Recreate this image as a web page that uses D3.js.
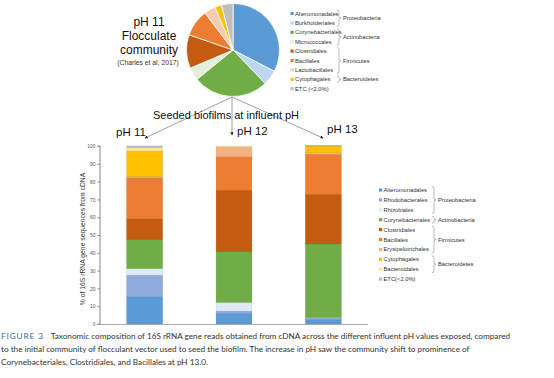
<!DOCTYPE html>
<html>
<head>
<meta charset="utf-8">
<script src="https://cdn.jsdelivr.net/npm/d3@7"></script>
<style>
  body { margin: 0; background: #fff; }
  svg { display: block; font-family: Arial, "Liberation Sans", sans-serif; }
</style>
</head>
<body>
<div id="chart"></div>
<script>
const width = 554,
    height = 378;

// pie (initial flocculant community)
const pieCats = ["Alteromonadales", "Burkholderiales", "Corynebacteriales", "Micrococcales",
    "Clostridiales", "Bacillales", "Lactobacillales", "Cytophagales", "ETC (<2.0%)"];
const pieValues = [32.6, 5.3, 26.3, 4.5, 11.7, 9.4, 4.0, 2.3, 4.0];
const pieColors = ["#5B9BD5", "#BDD7EE", "#70AD47", "#E2EFDA", "#C55A11", "#ED7D31", "#F8CBAD", "#FFC000", "#BFBFBF"];
const piePhyla = [["Proteobacteria", 0, 1], ["Actinobacteria", 2, 3], ["Firmicutes", 4, 6], ["Bacteroidetes", 7, 7]];

// stacked bars (seeded biofilms)
const barGroups = ["pH 11", "pH 12", "pH 13"];
const barCats = ["Alteromonadales", "Rhodobacterales", "Rhizobiales", "Corynebacteriales", "Clostridiales",
    "Bacillales", "Erysipelotrichales", "Cytophagales", "Bacteroidales", "ETC(<2.0%)"];
const alteromonadales = [15.3, 6.0, 2.6];
const rhodobacterales = [12.2, 1.3, 0.8];
const rhizobiales = [3.7, 4.9, 0.3];
const corynebacteriales = [16.2, 28.4, 41.3];
const clostridiales = [11.8, 34.6, 27.9];
const bacillales = [23.0, 18.8, 22.5];
const erysipelotrichales = [0.8, 5.4, 0.8];
const cytophagales = [14.2, 0, 3.8];
const bacteroidales = [2.0, 0.6, 0];
const etc = [0.8, 0, 0.3];
const barColors = ["#5B9BD5", "#8FAADC", "#DEEBF7", "#70AD47", "#C55A11", "#ED7D31", "#F4B183", "#FFC000", "#FFE699", "#BFBFBF"];
const barPhyla = [["Proteobacteria", 0, 2], ["Actinobacteria", 3, 3], ["Firmicutes", 4, 6], ["Bacteroidetes", 7, 8]];
const yTicks = [0, 10, 20, 30, 40, 50, 60, 70, 80, 90, 100];

const captionLines = [
    "Taxonomic composition of 16S rRNA gene reads obtained from cDNA across the different influent pH values exposed, compared",
    "to the initial community of flocculant vector used to seed the biofilm. The increase in pH saw the community shift to prominence of",
    "Corynebacteriales, Clostridiales, and Bacillales at pH 13.0."
];

const svg = d3.select("#chart").append("svg")
    .attr("width", width)
    .attr("height", height);

// ---------- top: pie ----------
const pieCx = 233, pieCy = 50, pieR = 46.5;

const title = svg.append("g").attr("text-anchor", "middle").attr("fill", "#111");
[["pH 11", 26], ["Flocculate", 40], ["community", 54]].forEach(([t, y]) => {
    title.append("text").attr("x", 149).attr("y", y).style("font-size", "12px").text(t);
});
title.append("text").attr("x", 148).attr("y", 64.5).style("font-size", "6.8px").attr("fill", "#333").text("(Charles et al, 2017)");

const pie = d3.pie().sort(null).value(d => d);
const arc = d3.arc().innerRadius(0).outerRadius(pieR);

svg.append("g")
    .attr("transform", `translate(${pieCx},${pieCy})`)
    .selectAll("path")
    .data(pie(pieValues))
    .enter().append("path")
    .attr("d", arc)
    .attr("fill", (d, i) => pieColors[i])
    .attr("stroke", "#fff")
    .attr("stroke-width", 0.8);

function drawLegend(g, cats, colors, phyla, y0, step, x0, bx) {
    cats.forEach((c, i) => {
        const y = y0 + i * step;
        g.append("rect").attr("x", x0).attr("y", y - 1.6).attr("width", 3.2).attr("height", 3.2).attr("fill", colors[i]);
        g.append("text").attr("x", x0 + 4.5).attr("y", y + 2).style("font-size", "5.8px").attr("fill", "#333").text(c);
    });
    phyla.forEach(([name, a, b]) => {
        const ya = y0 + a * step - 3.5, yb = y0 + b * step + 3.5, ym = (ya + yb) / 2;
        g.append("path")
            .attr("d", `M${bx},${ya} q2,0 2,2 V${ym - 1} l2,1 l-2,1 V${yb - 2} q0,2 -2,2`)
            .attr("fill", "none").attr("stroke", "#777").attr("stroke-width", 0.5);
        g.append("text").attr("x", bx + 6).attr("y", ym + 2).style("font-size", "5.8px").attr("fill", "#333").text(name);
    });
}

drawLegend(svg.append("g"), pieCats, pieColors, piePhyla, 13.5, 9.4, 290.5, 337);

// ---------- arrows ----------
const defs = svg.append("defs");
defs.append("marker")
    .attr("id", "ah").attr("viewBox", "0 0 6 6").attr("refX", 5).attr("refY", 3)
    .attr("markerWidth", 4).attr("markerHeight", 4).attr("orient", "auto")
    .append("path").attr("d", "M0,0 L6,3 L0,6 z").attr("fill", "#222");

const arrowTargets = [[145, 138], [232, 135], [323, 138]];
svg.append("g").selectAll("line")
    .data(arrowTargets).enter().append("line")
    .attr("x1", 232).attr("y1", 97)
    .attr("x2", d => d[0]).attr("y2", d => d[1])
    .attr("stroke", "#888").attr("stroke-width", 0.8)
    .attr("marker-end", "url(#ah)");

svg.append("text").attr("x", 226).attr("y", 119).attr("text-anchor", "middle")
    .style("font-size", "11px").attr("fill", "#111").text("Seeded biofilms at influent pH");

[["pH 11", 131, 136, "middle"], ["pH 12", 237, 135, "start"], ["pH 13", 327, 133, "start"]].forEach(([t, x, y, a]) => {
    svg.append("text").attr("x", x).attr("y", y).attr("text-anchor", a)
        .style("font-size", "11.5px").attr("fill", "#111").text(t);
});

// ---------- bars ----------
const series = [alteromonadales, rhodobacterales, rhizobiales, corynebacteriales, clostridiales,
    bacillales, erysipelotrichales, cytophagales, bacteroidales, etc];
const table = barGroups.map((g, j) => {
    const row = { group: g };
    barCats.forEach((c, i) => row[c] = series[i][j]);
    return row;
});
const stacked = d3.stack().keys(barCats)(table);

const x = d3.scaleBand().domain(barGroups).range([100, 368]).paddingInner(0.6).paddingOuter(0.3);
const y = d3.scaleLinear().domain([0, 100]).range([324, 146]);

const barG = svg.append("g");
barG.selectAll("g")
    .data(stacked).enter().append("g")
    .attr("fill", (d, i) => barColors[i])
    .attr("stroke", (d, i) => d3.color(barColors[i]).darker(0.4))
    .attr("stroke-width", 0.4)
    .selectAll("rect")
    .data(d => d.filter(s => s[1] - s[0] > 0))
    .enter().append("rect")
    .attr("x", d => x(d.data.group))
    .attr("width", x.bandwidth())
    .attr("y", d => y(d[1]))
    .attr("height", d => y(d[0]) - y(d[1]));

const yAxis = svg.append("g")
    .attr("transform", "translate(100,0)")
    .call(d3.axisLeft(y).tickValues(yTicks).tickSize(2.5).tickPadding(2));
yAxis.select(".domain").attr("stroke", "#888").attr("d", "M-2.5,146H0V324H-2.5");
yAxis.selectAll(".tick line").attr("stroke", "#888");
yAxis.selectAll(".tick text").style("font-size", "5px").attr("fill", "#555").style("font-family", "Arial, sans-serif");

svg.append("line")
    .attr("x1", 100).attr("x2", 368).attr("y1", 324.5).attr("y2", 324.5)
    .attr("stroke", "#999").attr("stroke-width", 0.8);

svg.append("text")
    .attr("transform", "translate(85,239) rotate(-90)")
    .attr("text-anchor", "middle")
    .style("font-size", "6.8px").attr("fill", "#333")
    .text("% of 16S rRNA gene sequences from cDNA");

drawLegend(svg.append("g"), barCats, barColors, barPhyla, 190, 9.9, 379, 432);

// ---------- caption ----------
const cap = svg.append("g").style("font-family", "Lato, 'Open Sans', sans-serif").style("font-size", "8.2px").attr("fill", "#333");
const first = cap.append("text").attr("x", 1).attr("y", 339);
first.append("tspan").attr("fill", "#2F6CA8").style("letter-spacing", "0.9px").text("FIGURE 3");
first.append("tspan").attr("dx", 7).text(captionLines[0]);
cap.append("text").attr("x", 1).attr("y", 352).text(captionLines[1]);
cap.append("text").attr("x", 1).attr("y", 365).text(captionLines[2]);
</script>
</body>
</html>
